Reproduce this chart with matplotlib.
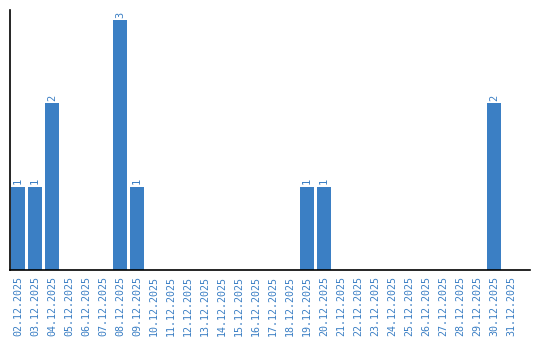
import matplotlib
matplotlib.use('Agg')
import matplotlib.pyplot as plt

# Dates and counts
dates = ['%02d.12.2025' % d for d in range(2, 32)]
counts = [1, 1, 2, 0, 0, 0, 3, 1, 0, 0,
          0, 0, 0, 0, 0, 0, 0, 1, 1, 0,
          0, 0, 0, 0, 0, 0, 0, 0, 2, 0]

blue = '#3b7fc4'

fig = plt.figure(figsize=(5.4, 3.4), dpi=100)
ax = fig.add_axes([10 / 540, 70 / 340, 520 / 540, 260 / 340])

x = range(len(dates))
bars = ax.bar(x, counts, width=0.82, color=blue)

# Value labels above non-empty bars
for xi, c in zip(x, counts):
    if c > 0:
        ax.text(xi, c + 0.03, str(c), rotation=90, ha='center', va='bottom',
                color=blue, fontsize=7.5, family='DejaVu Sans Mono')

ax.set_xlim(-0.47, 30.1)
ax.set_ylim(0, 3.12)
ax.set_xticks(list(x))
ax.set_xticklabels(dates, rotation=90, color=blue, fontsize=7.2, family='DejaVu Sans Mono')
ax.tick_params(axis='x', length=0, pad=4)
ax.set_yticks([])
ax.spines['top'].set_visible(False)
ax.spines['right'].set_visible(False)
ax.spines['left'].set_linewidth(1.2)
ax.spines['bottom'].set_linewidth(1.2)

fig.savefig('out.png', dpi=100)
